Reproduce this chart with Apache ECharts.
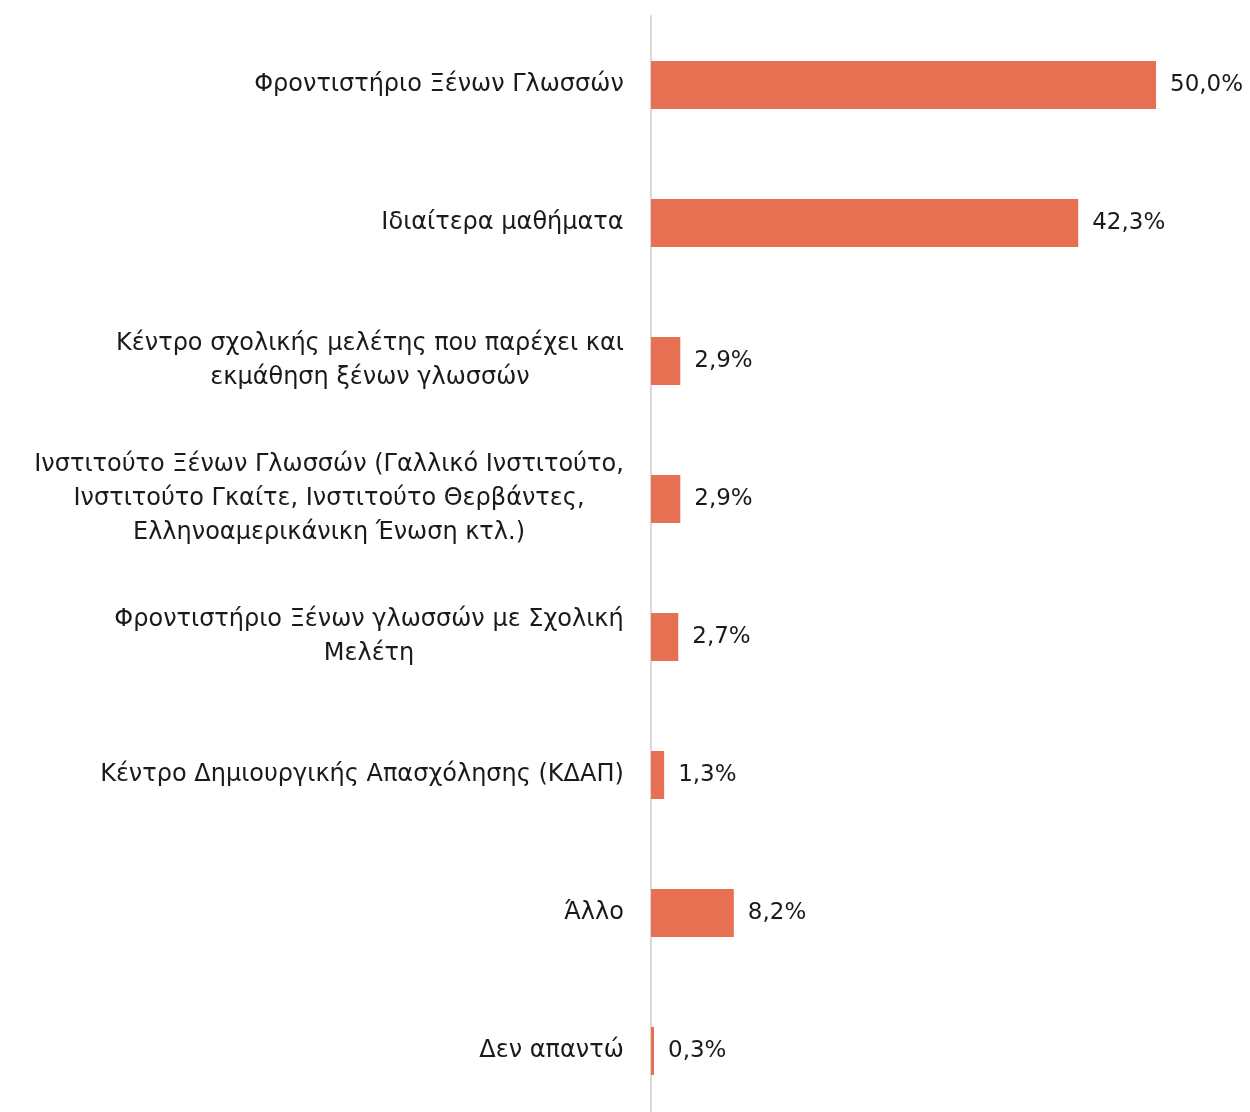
<!DOCTYPE html>
<html>
<head>
<meta charset="utf-8">
<script src="https://cdn.jsdelivr.net/npm/echarts@6/dist/echarts.min.js"></script>
<style>
  html, body { margin: 0; padding: 0; background: #fff; }
  #chart { width: 1250px; height: 1112px; }
</style>
</head>
<body>
<div id="chart"></div>
<script>
const categories = [
  'Φροντιστήριο Ξένων Γλωσσών',
  'Ιδιαίτερα μαθήματα',
  'Κέντρο σχολικής μελέτης που παρέχει και\nεκμάθηση ξένων γλωσσών',
  'Ινστιτούτο Ξένων Γλωσσών (Γαλλικό Ινστιτούτο,\nΙνστιτούτο Γκαίτε, Ινστιτούτο Θερβάντες,\nΕλληνοαμερικάνικη Ένωση κτλ.)',
  'Φροντιστήριο Ξένων γλωσσών με Σχολική\nΜελέτη',
  'Κέντρο Δημιουργικής Απασχόλησης (ΚΔΑΠ)',
  'Άλλο',
  'Δεν απαντώ'
]
const values = [50.0, 42.3, 2.9, 2.9, 2.7, 1.3, 8.2, 0.3]

const FONT = '"DejaVu Sans", sans-serif'
const LABEL_SIZE = 24
const VALUE_SIZE = 23
const TEXT_COLOR = '#1a1a1a'

// measure lines so multi-line labels are centred within their block
const ctx = document.createElement('canvas').getContext('2d')
ctx.font = LABEL_SIZE + 'px ' + FONT
const rich = {}
categories.forEach((c, i) => {
  const w = Math.max(...c.split('\n').map(l => ctx.measureText(l).width))
  rich['b' + i] = {
    width: Math.ceil(w) + 2,
    align: 'center',
    fontSize: LABEL_SIZE,
    fontFamily: FONT,
    color: TEXT_COLOR,
    lineHeight: 34
  }
})

const chart = echarts.init(document.getElementById('chart'))

const option = {
  animation: false,
  grid: {
    left: 651,
    top: 16,
    width: 555.5,
    height: 1104,
    outerBoundsMode: 'none'
  },
  xAxis: {
    type: 'value',
    min: 0,
    max: 55,
    show: false,
    splitLine: { show: false }
  },
  yAxis: {
    type: 'category',
    inverse: true,
    data: categories,
    axisLine: { show: true, lineStyle: { color: '#d9d9d9', width: 2 } },
    axisTick: { show: false },
    axisLabel: {
      margin: 26,
      align: 'right',
      fontSize: LABEL_SIZE,
      fontFamily: FONT,
      color: TEXT_COLOR,
      lineHeight: 34,
      formatter: (value) => {
        const i = categories.indexOf(value)
        return value.split('\n').map(l => '{b' + i + '|' + l + '}').join('\n')
      },
      rich: rich
    }
  },
  series: [
    {
      type: 'bar',
      data: values,
      barWidth: 48,
      itemStyle: { color: '#e87052' },
      label: {
        show: true,
        position: 'right',
        distance: 14,
        fontSize: VALUE_SIZE,
        fontFamily: FONT,
        color: TEXT_COLOR,
        formatter: p => p.value.toFixed(1).replace('.', ',') + '%'
      }
    }
  ]
}

chart.setOption(option)
</script>
</body>
</html>
